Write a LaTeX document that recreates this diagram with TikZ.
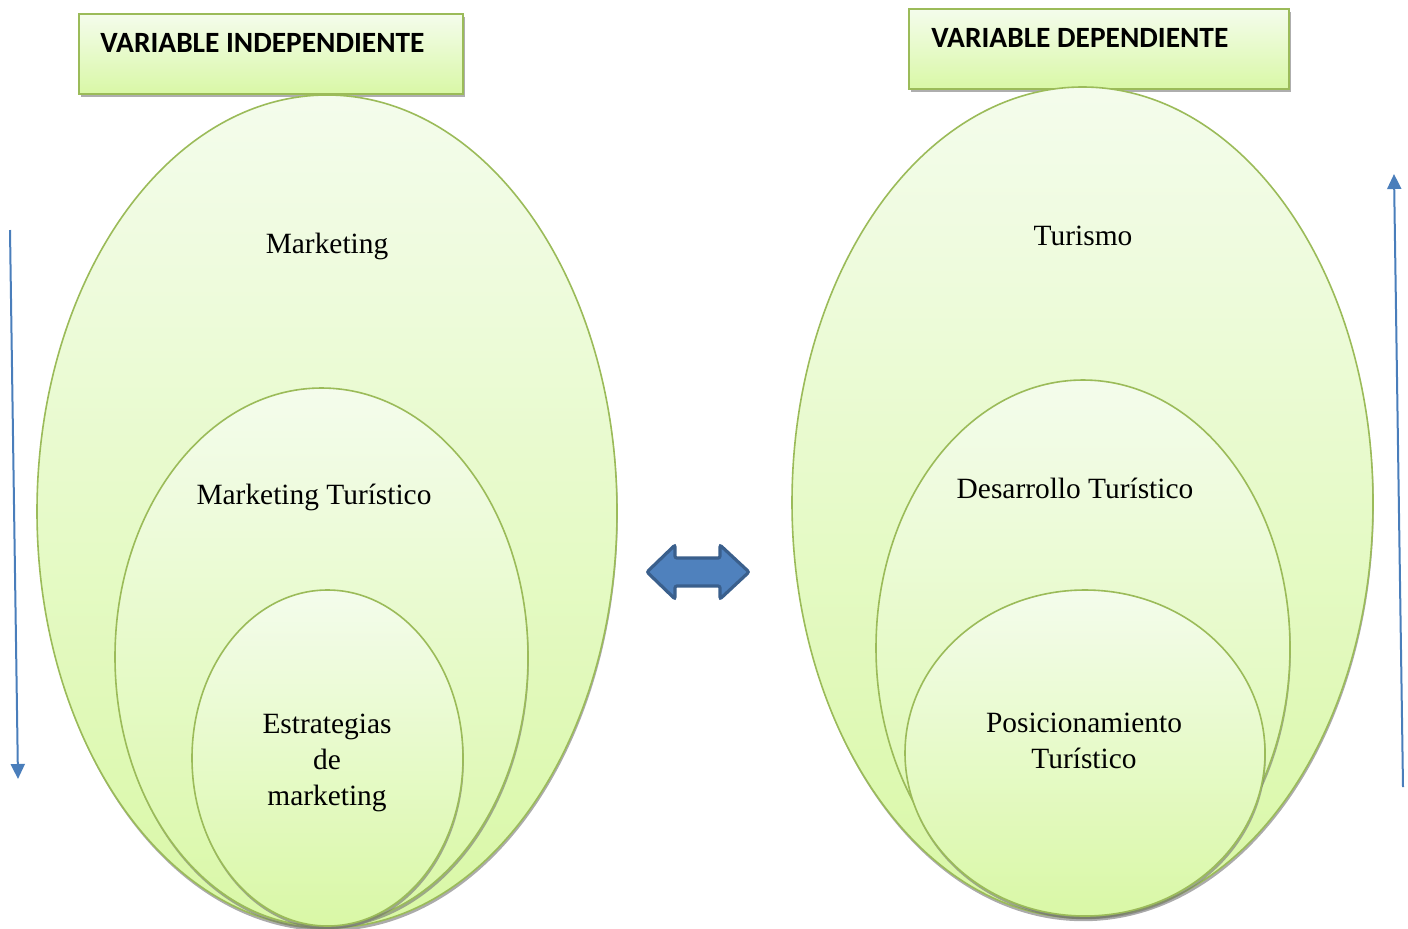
\documentclass[tikz,border=0pt]{standalone}
\usepackage{fontspec}
\setmainfont{Liberation Serif}
\newfontfamily\hdrfont{Carlito}
\usetikzlibrary{shapes.geometric,shadows,arrows.meta}
\definecolor{egreen}{HTML}{9BBB59}
\definecolor{ftop}{HTML}{F4FCEC}
\definecolor{fbot}{HTML}{D9F8A6}
\definecolor{ablue}{HTML}{4A7EBB}
\definecolor{dablue}{HTML}{3A5F8C}
\definecolor{fblue}{HTML}{4F81BD}
\tikzset{
  ell/.style={ellipse, draw=egreen, line width=0.8pt, inner sep=0pt,
    top color=ftop, bottom color=fbot,
    drop shadow={shadow xshift=0.4pt, shadow yshift=-1.6pt, fill=black!55, opacity=0.6}},
  hdr/.style={draw=egreen, line width=1pt, top color=ftop, bottom color=fbot,
    inner sep=0pt,
    drop shadow={shadow xshift=0.8pt, shadow yshift=-1.6pt, fill=black!45, opacity=0.7}},
  hdrtext/.style={font=\hdrfont\bfseries\fontsize{14.7}{17}\selectfont, anchor=west, inner sep=0pt},
  lbl/.style={font=\fontsize{14.7}{18}\selectfont, align=center, inner sep=0pt},
  varrow/.style={draw=ablue, line width=1pt, -{Triangle[width=7pt,length=7.5pt]}},
}
\begin{document}
\begin{tikzpicture}[x=0.5pt,y=-0.5pt]
\useasboundingbox (0,0) rectangle (1408,928);
% left header
\node[hdr, minimum width=192pt, minimum height=40pt] (hl) at (271,54) {};
\node[hdrtext] (hlt) at (100,43) {VARIABLE INDEPENDIENTE};
% left ellipses
\node[ell, minimum width=290pt, minimum height=416.5pt] (l1) at (327,511.5) {};
\node[ell, minimum width=206.5pt, minimum height=269pt] (l2) at (321.5,657) {};
\node[ell, minimum width=135.5pt, minimum height=168pt] (l3) at (327.5,758) {};
% right header
\node[hdr, minimum width=190pt, minimum height=40pt] (hr) at (1099,49) {};
\node[hdrtext] (hrt) at (931,38) {VARIABLE DEPENDIENTE};
% right ellipses
\node[ell, minimum width=290.5pt, minimum height=415.5pt] (r1) at (1082.5,502.5) {};
\node[ell, minimum width=207pt, minimum height=268pt] (r2) at (1083,648) {};
\node[ell, minimum width=180pt, minimum height=163pt] (r3) at (1085,753) {};
% labels
\node[lbl] (t1) at (327,246) {Marketing};
\node[lbl] (t2) at (314,497) {Marketing Turístico};
\node[lbl] (t3) at (327,763) {Estrategias\\de\\marketing};
\node[lbl] (t4) at (1083,236) {Turismo};
\node[lbl] (t5) at (1075,488) {Desarrollo Turístico};
\node[lbl] (t6) at (1084,741) {Posicionamiento\\Turístico};
% double arrow
\draw[draw=dablue, fill=fblue, line width=1.6pt, rounded corners=1pt]
  (647,572) -- (675,545) -- (675,558) -- (720,558) -- (720,545) -- (749,572)
  -- (720,599) -- (720,586) -- (675,586) -- (675,599) -- cycle;
% side arrows
\coordinate (la1) at (10,230);
\coordinate (la2) at (18,779);
\draw[varrow] (la1) -- (la2);
\coordinate (ra1) at (1403,787);
\coordinate (ra2) at (1394,174);
\draw[varrow] (ra1) -- (ra2);
\end{tikzpicture}
\end{document}
